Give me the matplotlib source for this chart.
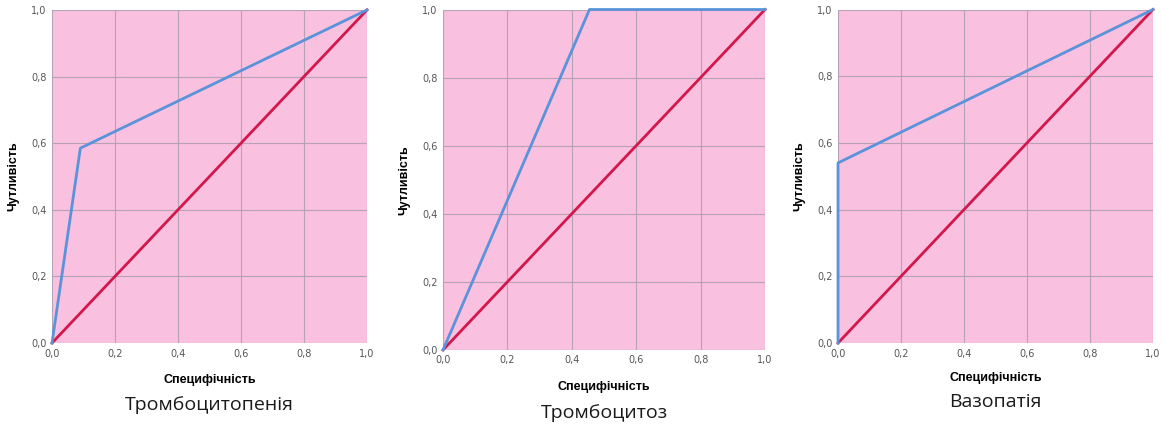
import matplotlib
matplotlib.use("Agg")
import matplotlib.pyplot as plt
from matplotlib.ticker import FuncFormatter

# ROC curves: specificity axis (x) vs sensitivity (y)
titles = ["Тромбоцитопенія", "Тромбоцитоз", "Вазопатія"]
roc_x = [[0.0, 0.09, 1.0], [0.0, 0.455, 1.0], [0.0, 0.0, 1.0]]
roc_y = [[0.0, 0.585, 1.0], [0.0, 1.0, 1.0], [0.0, 0.54, 1.0]]
ref_x = [0.0, 1.0]
ref_y = [0.0, 1.0]
ticks = [0.0, 0.2, 0.4, 0.6, 0.8, 1.0]

# axes rectangles in figure fractions, plus y positions of xlabel/title
rects = [
    [0.0448, 0.206, 0.2713, 0.771],
    [0.3816, 0.190, 0.2773, 0.788],
    [0.7218, 0.206, 0.2713, 0.772],
]
label_y = [380, 387, 378]
title_y = [405, 413, 402]

pink = "#FAC0DF"
blue = "#5B93DA"
red = "#D4174B"
grid_c = "#B3A3B5"

fig = plt.figure(figsize=(11.61, 4.32), dpi=100)
comma = FuncFormatter(lambda v, p: f"{v:.1f}".replace(".", ","))

for i in range(3):
    ax = fig.add_axes(rects[i])
    ax.set_facecolor(pink)
    ax.set_xlim(0, 1)
    ax.set_ylim(0, 1)
    ax.set_xticks(ticks)
    ax.set_yticks(ticks)
    ax.xaxis.set_major_formatter(comma)
    ax.yaxis.set_major_formatter(comma)
    ax.tick_params(length=0, labelsize=7, colors="#555555", pad=4)
    ax.grid(True, color=grid_c, linewidth=0.8)
    ax.set_axisbelow(True)
    for s in ax.spines.values():
        s.set_visible(False)
    ax.plot(ref_x, ref_y, color=red, linewidth=2, clip_on=False)
    ax.plot(roc_x[i], roc_y[i], color=blue, linewidth=2, clip_on=False)
    ax.set_ylabel("Чутливість", fontsize=9, fontweight="bold",
                  family="Liberation Sans", labelpad=8)
    cx = rects[i][0] + rects[i][2] / 2
    fig.text(cx, 1 - label_y[i] / 432, "Специфічність", fontsize=9,
             fontweight="bold", family="Liberation Sans",
             ha="center", va="center")
    fig.text(cx, 1 - title_y[i] / 432, titles[i], fontsize=14,
             family="Open Sans", ha="center", va="center", color="#1a1a1a")

fig.savefig("out.png", dpi=100, facecolor="white")
